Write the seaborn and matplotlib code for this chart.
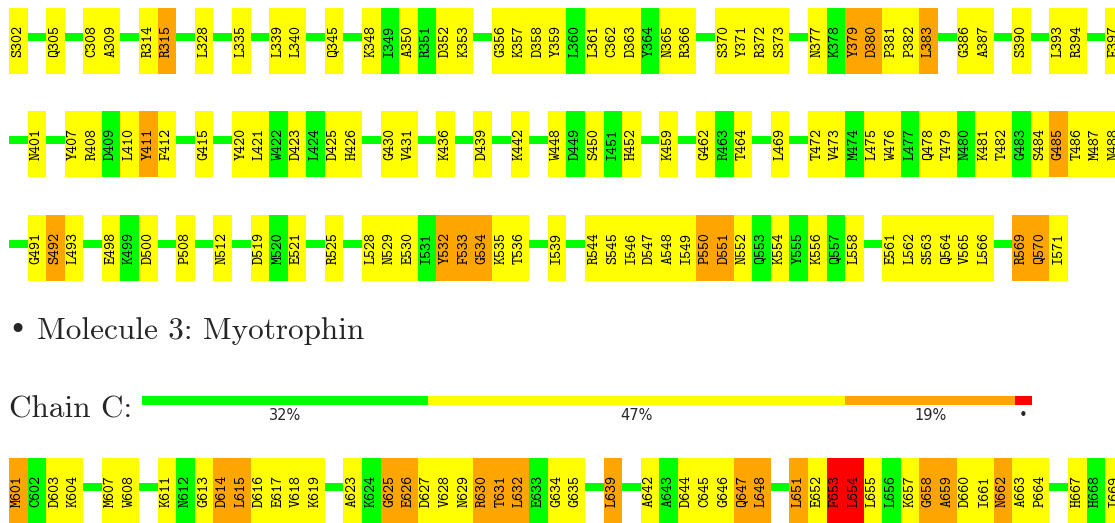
import matplotlib
matplotlib.use("Agg")
import matplotlib.pyplot as plt
import seaborn as sns

# ==============================
# DATA
# ==============================
# "-" marks a gap slot (only the green connector line is drawn there)
row1 = ("S302 - Q305 - C308 A309 - R314 R315 - L328 - L335 - L339 L340 - Q345 - "
        "K348 I349 A350 R351 D352 K353 - G356 K357 D358 Y359 L360 L361 C362 D363 "
        "Y364 N365 R366 - S370 Y371 R372 S373 - N377 K378 Y379 D380 P381 P382 L383 - "
        "G386 A387 - S390 - L393 R394 - F397").split()
row2 = ("- N401 - Y407 R408 D409 L410 Y411 F412 - G415 - Y420 L421 W422 D423 L424 "
        "D425 H426 - G430 V431 - K436 - D439 - K442 - W448 D449 S450 I451 H452 - K459 - "
        "G462 R463 T464 - L469 - T472 V473 M474 L475 W476 L477 Q478 T479 N480 K481 "
        "T482 G483 S484 G485 T486 M487 N488").split()
row3 = ("- G491 S492 L493 - E498 K499 D500 - P508 - N512 - D519 M520 E521 - R525 - "
        "L528 N529 E530 I531 Y532 F533 G534 K535 T536 - I539 - R544 S545 I546 D547 "
        "A548 I549 P550 D551 N552 Q553 K554 Y555 K556 Q557 L558 - E561 L562 S563 Q564 "
        "V565 L566 - R569 Q570 I571").split()
row4 = ("M601 C602 D603 K604 - M607 W608 - K611 N612 G613 D614 L615 D616 E617 V618 "
        "K619 - A623 K624 G625 E626 D627 V628 N629 R630 T631 L632 E633 G634 G635 - "
        "L639 - A642 A643 D644 C645 G646 Q647 L648 - L651 E652 F653 L654 L655 L656 "
        "K657 G658 A659 D660 I661 N662 A663 P664 - H667 H668 I669").split()

# residues that are not yellow
green_res = ["I349", "R351", "L360", "Y364", "K378", "D409", "W422", "L424", "D449",
             "I451", "R463", "M474", "L477", "N480", "G483", "K499", "M520", "I531",
             "Q553", "Y555", "Q557", "C602", "N612", "K624", "E633", "A643", "L656",
             "H668"]
orange_res = ["R315", "Y379", "D380", "L383", "Y411", "G485", "S492", "Y532", "F533",
              "G534", "P550", "D551", "R569", "Q570", "M601", "D614", "L615", "G625",
              "E626", "R630", "T631", "L632", "L639", "Q647", "L648", "L651", "G658",
              "A659", "N662"]
red_res = ["F653", "L654"]

# chain C quality bar
chain_pct = [32.1, 46.9, 19.1, 1.9]
chain_labels = ["32%", "47%", "19%", "\u2022"]

# ==============================
# STYLE
# ==============================
sns.set_style("white")
YELLOW, GREEN, ORANGE, RED = "#ffff00", "#00ff00", "#ffa500", "#ff0000"
chain_colors = [GREEN, YELLOW, ORANGE, RED]

def res_color(r):
    if r in green_res:
        return GREEN
    if r in orange_res:
        return ORANGE
    if r in red_res:
        return RED
    return YELLOW

W, H = 1115, 523
SLOT = 18.58   # px per slot
X0 = 9         # left edge of slot 0, px

fig = plt.figure(figsize=(W / 100, H / 100), dpi=100)
ax = fig.add_axes([0, 0, 1, 1])
ax.set_xlim(-X0 / SLOT, (W - X0) / SLOT)
ax.set_ylim(H, 0)
ax.axis("off")

row_tops = [8, 111, 215, 458]
BOX_H = 66
LINE_OFF, LINE_H = 29, 8

for toks, top in zip([row1, row2, row3, row4], row_tops):
    xs = list(range(len(toks)))
    # connector line behind everything
    ax.bar(xs, [LINE_H] * len(xs), bottom=top + LINE_OFF - LINE_H / 2, width=1.0,
           align="edge", color=GREEN, linewidth=0, zorder=1)
    res_x = [i for i, t in enumerate(toks) if t != "-"]
    res = [t for t in toks if t != "-"]
    ax.bar(res_x, [BOX_H] * len(res), bottom=top, width=1.0, align="edge",
           color=[res_color(r) for r in res], linewidth=0, zorder=2)
    for i, r in zip(res_x, res):
        ax.text(i + 0.5, top + BOX_H / 2, r, rotation=90, ha="center", va="center",
                family="cmtt10", fontsize=11, color="black", zorder=3)

# ==============================
# MOLECULE HEADER + CHAIN BAR
# ==============================
fig.text(8 / W, 1 - 331 / H, "\u2022", family="DejaVu Sans", fontsize=22,
         va="center", ha="left")
fig.text(37 / W, 1 - 331 / H, "Molecule 3: Myotrophin", family="cmr10",
         fontsize=22.5, va="center", ha="left")
fig.text(9 / W, 1 - 410 / H, "Chain C:", family="cmr10", fontsize=22.5,
         va="center", ha="left")

bx = fig.add_axes([142 / W, 1 - 405 / H, 890 / W, 9 / H])
left = 0
for pct, col, lab in zip(chain_pct, chain_colors, chain_labels):
    bx.barh(0, pct, left=left, height=1.0, color=col, linewidth=0)
    bx.text(left + pct / 2, -1.7, lab, ha="center", va="center",
            family="DejaVu Sans", fontsize=10.5)
    left += pct
bx.set_xlim(0, 100)
bx.set_ylim(-0.5, 0.5)
bx.axis("off")

fig.savefig("out.png", dpi=100)
